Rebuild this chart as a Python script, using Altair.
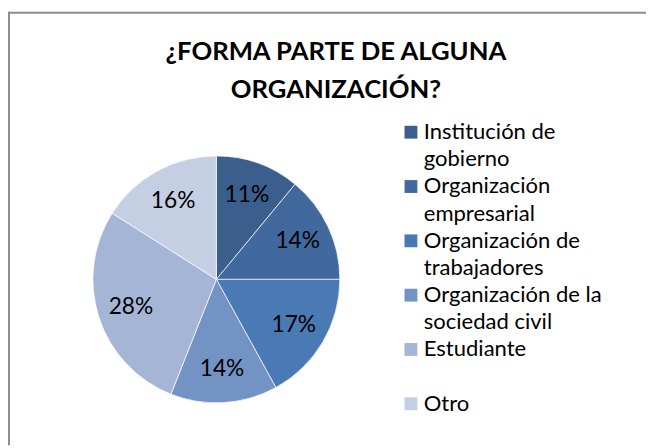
import altair as alt
import pandas as pd

categories = ["Institución de gobierno", "Organización empresarial", "Organización de trabajadores",
              "Organización de la sociedad civil", "Estudiante", "Otro"]
legend_lines = [["Institución de", "gobierno"], ["Organización", "empresarial"],
                ["Organización de", "trabajadores"], ["Organización de la", "sociedad civil"],
                ["Estudiante", ""], ["Otro"]]
values = [11, 14, 17, 14, 28, 16]
colors = ["#3B5E8C", "#41699E", "#4A7AB4", "#7393C4", "#A4B5D6", "#C5CFE4"]
title_lines = ["¿FORMA PARTE DE ALGUNA", "ORGANIZACIÓN?"]

df = pd.DataFrame({"cat": categories, "val": values, "ord": list(range(len(values))),
                   "lbl": [f"{v}%" for v in values]})

rows = []
for k, (c, lines) in enumerate(zip(categories, legend_lines)):
    for j, t in enumerate(lines):
        rows.append({"cat": c, "text": t, "slot": 2 * k + j, "first": j == 0})
leg = pd.DataFrame(rows)

FONT = "Lato"
W, H = 646, 440
CX, CY, R = 211, 272, 125

cscale = alt.Scale(domain=categories, range=colors)
yscale = alt.Scale(domain=[0, 10], range=[123, 398])

base = alt.Chart(df).encode(
    theta=alt.Theta("val:Q", stack=True),
    order=alt.Order("ord:Q"),
)

pie = base.mark_arc(outerRadius=R, stroke="#ffffff", strokeWidth=0.7).encode(
    x=alt.value(CX), y=alt.value(CY),
    color=alt.Color("cat:N", sort=categories, scale=cscale, legend=None),
)

labels = base.mark_text(radius=91, font=FONT, fontSize=23, color="#000000").encode(
    x=alt.value(CX), y=alt.value(CY), text="lbl:N")

leg_sq = alt.Chart(leg).transform_filter("datum.first").mark_square(
    size=169, opacity=1, strokeWidth=0).encode(
    x=alt.value(408),
    y=alt.Y("slot:Q", scale=yscale, axis=None),
    color=alt.Color("cat:N", scale=cscale, legend=None),
)
leg_tx = alt.Chart(leg).mark_text(align="left", baseline="middle", font=FONT, fontSize=22.3,
                                   color="#000000").encode(
    x=alt.value(421),
    y=alt.Y("slot:Q", scale=yscale, axis=None),
    text="text:N",
)

border_df = pd.DataFrame({"k": [0]})
top_rule = alt.Chart(border_df).mark_rule(color="#8c8c8c", strokeWidth=2).encode(
    x=alt.value(0), x2=alt.value(W), y=alt.value(2))
left_rule = alt.Chart(border_df).mark_rule(color="#8c8c8c", strokeWidth=2).encode(
    x=alt.value(1), y=alt.value(1), y2=alt.value(H))

chart = alt.layer(pie, labels, leg_sq, leg_tx, top_rule, left_rule).properties(
    width=W, height=H,
    title=alt.TitleParams(title_lines, anchor="middle", frame="group",
                          font=FONT, fontSize=26, fontWeight="bold", color="#000000",
                          lineHeight=38, dx=9, dy=93, offset=0, baseline="top"),
    autosize=alt.AutoSizeParams(type="none"),
    padding={"left": 0, "top": 0, "right": 0, "bottom": 0},
).configure_view(stroke=None)

chart.save("out.html", embed_options={"renderer": "svg", "actions": False})
